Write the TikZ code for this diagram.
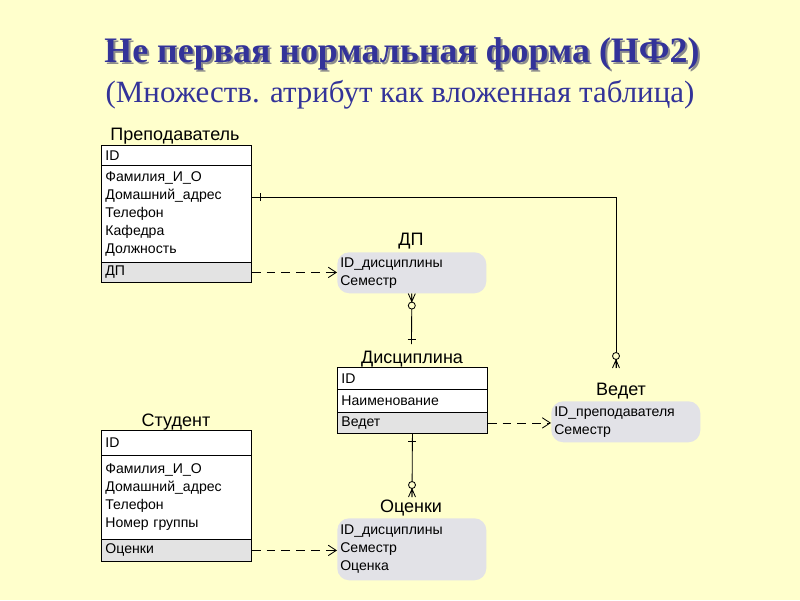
\documentclass[tikz,border=0pt]{standalone}
\usepackage{fontspec}
\setmainfont{Liberation Serif}
\setsansfont{Liberation Sans}
\usepackage{xcolor}
\usepackage{tikz}
\usetikzlibrary{arrows.meta}
\definecolor{bgyellow}{RGB}{255,255,204}
\definecolor{titleblue}{RGB}{51,51,153}
\definecolor{keygray}{RGB}{227,227,227}
\definecolor{nestgray}{RGB}{226,226,231}
\tikzset{
  ent/.style={font=\sffamily\fontsize{12.8}{14}\selectfont, inner sep=0pt, anchor=base},
  fld/.style={draw, line width=0.6pt, fill=white, anchor=north west, text width=3.55cm, inner xsep=0.1cm, inner ysep=0pt, align=left, font=\sffamily\fontsize{10}{12.8}\selectfont},
  keyfld/.style={fld, fill=keygray},
  nest/.style={fill=nestgray, rounded corners=0.3cm, anchor=north west, text width=3.575cm, inner xsep=0.075cm, inner ysep=0pt, align=left, font=\sffamily\fontsize{10}{12.8}\selectfont},
  link/.style={line width=0.6pt},
  ref/.style={line width=0.6pt, dash pattern=on 0.22cm off 0.15cm, -{Straight Barb[length=0.2cm,width=0.26cm]}},
  pics/zeromany/.style={code={
    \draw[link] (-3.5,0) -- (0,-8) -- (3.5,0) (0,0) -- (0,-8);
    \draw[link, fill=bgyellow] (0,-12) circle (0.0875cm);
  }},
  pics/onebar/.style={code={\draw[link] (-4,0) -- (4,0);}}
}
\begin{document}
\begin{tikzpicture}[x=0.025cm, y=-0.025cm]
		\fill[bgyellow] (0,0) rectangle (800,600);
		\useasboundingbox (0,0) rectangle (800,600);
		\node[font=\bfseries\fontsize{25.5}{28}\selectfont, text=black!45, anchor=base] (headShade) at (404,64) {Не первая нормальная форма (НФ2)};
		\node[font=\bfseries\fontsize{25.5}{28}\selectfont, text=titleblue, anchor=base] (head) at (402,62) {Не первая нормальная форма (НФ2)};
		\node[font=\fontsize{22}{24}\selectfont, text=titleblue, anchor=base] (subhead) at (400,102) {(Множеств. атрибут как вложенная таблица)};

		\node[ent] (prepTitle) at (175,140) {Преподаватель};
		\node[fld, minimum height=0.5cm] (prepId) at (101,145) {ID};
		\node[fld, minimum height=2.425cm] (prepAttr) at (101,165) {Фамилия\_И\_О\\Домашний\_адрес\\Телефон\\Кафедра\\Должность};
		\node[keyfld, minimum height=0.5cm] (prepDp) at (101,262) {ДП};

		\node[ent] (studTitle) at (176,426) {Студент};
		\node[fld, minimum height=0.625cm] (studId) at (101,430) {ID};
		\node[fld, minimum height=2.1cm] (studAttr) at (101,455) {Фамилия\_И\_О\\Домашний\_адрес\\Телефон\\Номер группы};
		\node[keyfld, minimum height=0.55cm] (studMarks) at (101,539) {Оценки};

		\node[ent] (discTitle) at (412,363) {Дисциплина};
		\node[fld, minimum height=0.55cm] (discId) at (337,367) {ID};
		\node[fld, minimum height=0.575cm] (discName) at (337,389) {Наименование};
		\node[keyfld, minimum height=0.525cm] (discVed) at (337,412) {Ведет};

		\node[ent] (dpTitle) at (411,245) {ДП};
		\node[nest, minimum height=1.025cm] (dpNest) at (337,252) {ID\_дисциплины\\Семестр};
		\node[ent] (vedTitle) at (621,395) {Ведет};
		\node[nest, minimum height=1.025cm] (vedNest) at (551,401) {ID\_преподавателя\\Семестр};
		\node[ent] (marksTitle) at (411,512) {Оценки};
		\node[nest, minimum height=1.55cm] (marksNest) at (337,518) {ID\_дисциплины\\Семестр\\Оценка};

		\coordinate (vedEnd) at (616,368);
		\coordinate (discIn) at (411.5,344);
		\coordinate (marksIn) at (412,497);

		\draw[link] ([yshift=-0.8cm]prepAttr.north east) coordinate (prepOut) -| (vedEnd);
		\pic[rotate=90] at ([xshift=0.225cm]prepOut) {onebar};
		\pic at (vedEnd) {zeromany};

		\draw[link] (dpNest.south) -- (discIn);
		\pic[rotate=180] at (dpNest.south) {zeromany};
		\pic at ([yshift=0.125cm]discIn) {onebar};

		\draw[link] (discVed.south) -- (marksIn);
		\pic at ([yshift=-0.2cm]discVed.south) {onebar};
		\pic at (marksIn) {zeromany};

		\draw[ref] (prepDp.east) -- (prepDp.east -| dpNest.west);
		\draw[ref] (discVed.east) -- (discVed.east -| vedNest.west);
		\draw[ref] (studMarks.east) -- (studMarks.east -| marksNest.west);
	\end{tikzpicture}
\end{document}
